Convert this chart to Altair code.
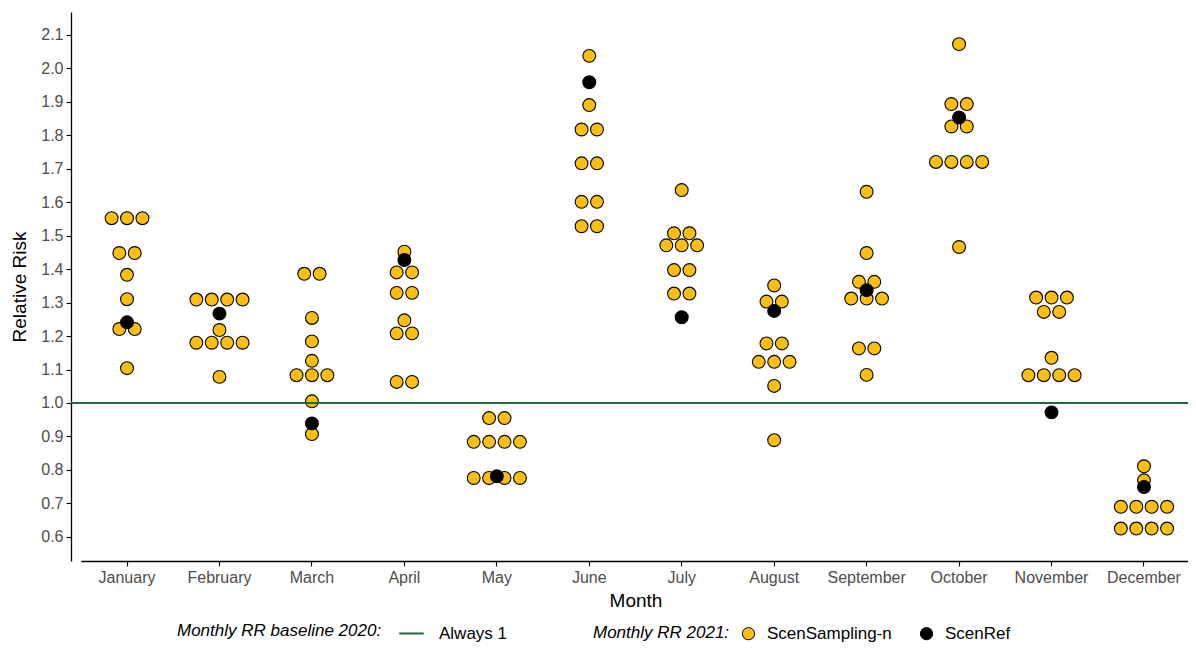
import altair as alt
import pandas as pd

months = ["January", "February", "March", "April", "May", "June", "July",
          "August", "September", "October", "November", "December"]

# ScenSampling-n values per month (10 per month) and their beeswarm slot (half-dot units)
gold_values = [
    [1.552, 1.552, 1.552, 1.448, 1.448, 1.383, 1.310, 1.221, 1.221, 1.104],
    [1.309, 1.309, 1.309, 1.309, 1.218, 1.180, 1.180, 1.180, 1.180, 1.078],
    [1.386, 1.386, 1.254, 1.184, 1.126, 1.083, 1.083, 1.083, 1.005, 0.907],
    [1.452, 1.390, 1.390, 1.329, 1.329, 1.247, 1.208, 1.208, 1.063, 1.063],
    [0.955, 0.955, 0.884, 0.884, 0.884, 0.884, 0.776, 0.776, 0.776, 0.776],
    [2.037, 1.890, 1.817, 1.817, 1.716, 1.716, 1.601, 1.601, 1.528, 1.528],
    [1.636, 1.507, 1.507, 1.471, 1.471, 1.471, 1.397, 1.397, 1.327, 1.327],
    [1.351, 1.303, 1.303, 1.178, 1.178, 1.123, 1.123, 1.123, 1.051, 0.889],
    [1.631, 1.448, 1.362, 1.362, 1.312, 1.312, 1.312, 1.163, 1.163, 1.084],
    [2.072, 1.893, 1.893, 1.826, 1.826, 1.720, 1.720, 1.720, 1.720, 1.466],
    [1.315, 1.315, 1.315, 1.272, 1.272, 1.135, 1.083, 1.083, 1.083, 1.083],
    [0.811, 0.769, 0.690, 0.690, 0.690, 0.690, 0.625, 0.625, 0.625, 0.625],
]
gold_slots = [
    [-2, 0, 2, -1, 1, 0, 0, -1, 1, 0],
    [-3, -1, 1, 3, 0, -3, -1, 1, 3, 0],
    [-1, 1, 0, 0, 0, -2, 0, 2, 0, 0],
    [0, -1, 1, -1, 1, 0, -1, 1, -1, 1],
    [-1, 1, -3, -1, 1, 3, -3, -1, 1, 3],
    [0, 0, -1, 1, -1, 1, -1, 1, -1, 1],
    [0, -1, 1, -2, 0, 2, -1, 1, -1, 1],
    [0, -1, 1, -1, 1, -2, 0, 2, 0, 0],
    [0, 0, -1, 1, -2, 0, 2, -1, 1, 0],
    [0, -1, 1, -1, 1, -3, -1, 1, 3, 0],
    [-2, 0, 2, -1, 1, 0, -3, -1, 1, 3],
    [0, 0, -3, -1, 1, 3, -3, -1, 1, 3],
]
# ScenRef values per month
ref_values = [1.241, 1.267, 0.939, 1.427, 0.781, 1.958, 1.256, 1.275, 1.337, 1.853, 0.972, 0.749]
ref_slots = [0, 0, 0, 0, 0, 0, 0, 0, 0, 0, 0, 0]

baseline_value = [1.0]
baseline_label = ["Always 1"]
series_names = ["ScenSampling-n", "ScenRef"]
y_ticks = [0.6, 0.7, 0.8, 0.9, 1.0, 1.1, 1.2, 1.3, 1.4, 1.5, 1.6, 1.7, 1.8, 1.9, 2.0, 2.1]

GOLD = "#FDBE12"
GREEN = "#23683A"
FONT = "Liberation Sans"

rows = []
for m, vals, slots in zip(months, gold_values, gold_slots):
    for v, s in zip(vals, slots):
        rows.append({"Month": m, "RR": v, "slot": s, "series": series_names[0]})
for m, v, s in zip(months, ref_values, ref_slots):
    rows.append({"Month": m, "RR": v, "slot": s, "series": series_names[1]})
df = pd.DataFrame(rows)
df_base = pd.DataFrame({"RR": baseline_value, "baseline": baseline_label})

x_enc = alt.X(
    "Month:N", sort=months,
    scale=alt.Scale(domain=months, range=[9.8, 1119.2], paddingInner=0, paddingOuter=0),
    axis=alt.Axis(title="Month", labelAngle=0, titlePadding=6),
)
y_scale = alt.Scale(domain=[0.528, 2.168], nice=False, zero=False)
y_axis = alt.Axis(title="Relative Risk", values=y_ticks, format=".1f", titlePadding=11)

points = alt.Chart(df).mark_circle(size=165, stroke="black", strokeWidth=1.1, opacity=1).encode(
    x=x_enc,
    xOffset=alt.XOffset("slot:Q", scale=alt.Scale(domain=[-6, 6])),
    y=alt.Y("RR:Q", scale=y_scale, axis=y_axis),
    fill=alt.Fill(
        "series:N",
        scale=alt.Scale(domain=series_names, range=[GOLD, "black"]),
        legend=alt.Legend(
            title="Monthly RR 2021:", orient="none", legendX=522, legendY=613,
            direction="horizontal", titleOrient="left", symbolType="circle",
            symbolSize=150, symbolStrokeColor="black", symbolStrokeWidth=1,
            labelOffset=10, columnPadding=26, titlePadding=10, titleLimit=400,
        ),
    ),
)

rule = alt.Chart(df_base).mark_rule(strokeWidth=2).encode(
    y=alt.Y("RR:Q", scale=y_scale, axis=y_axis),
    stroke=alt.Stroke(
        "baseline:N",
        scale=alt.Scale(domain=baseline_label, range=[GREEN]),
        legend=alt.Legend(
            title="Monthly RR baseline 2020:", orient="none", legendX=106, legendY=608,
            direction="horizontal", titleOrient="left", symbolType="stroke",
            symbolSize=600, symbolStrokeWidth=2, symbolStrokeColor=GREEN,
            labelOffset=14, titlePadding=16, titleLimit=400,
        ),
    ),
)

chart = alt.layer(points, rule).properties(
    width=1117, height=549,
    padding={"left": 63, "top": 4, "right": 0, "bottom": 85},
    autosize=alt.AutoSizeParams(type="none"),
).configure_view(stroke=None).configure_axis(
    grid=False, domainColor="black", domainWidth=1.3, tickColor="black", tickSize=5,
    tickWidth=1.1, labelColor="#4D4D4D", labelFontSize=16, labelFont=FONT,
    titleFont=FONT, titleFontSize=19, titleColor="black", titleFontWeight="normal",
    labelPadding=3,
).configure_legend(
    labelFont=FONT, titleFont=FONT, labelFontSize=17, titleFontSize=17,
    titleFontStyle="italic", titleFontWeight="normal", titleColor="black",
    labelColor="black",
)

chart.save("out.html", embed_options={"renderer": "svg", "actions": False})
